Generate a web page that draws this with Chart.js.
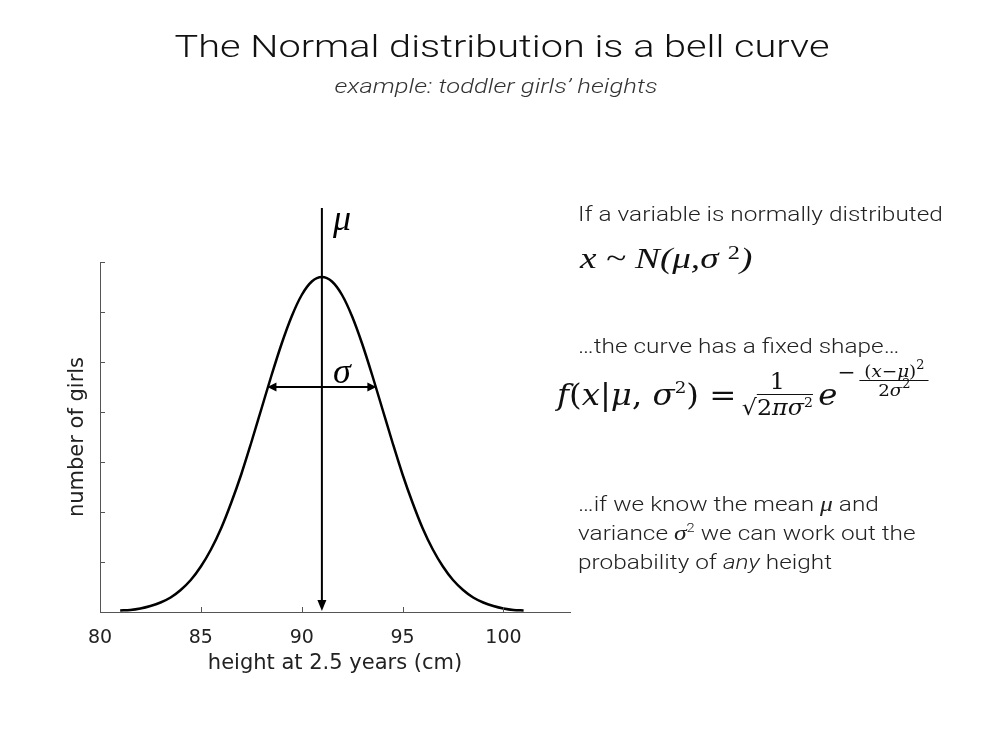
<!DOCTYPE html>
<html>
<head>
<meta charset="utf-8">
<script src="https://cdn.jsdelivr.net/npm/chart.js@4.4.1/dist/chart.umd.min.js"></script>
<style>
  body { margin: 0; background: #fff; width: 1004px; height: 746px; overflow: hidden; position: relative; font-family: "Liberation Sans", Arial, sans-serif; color: #222; }
  #chart { position: absolute; left: 0; top: 0; }
  .txt { position: absolute; white-space: nowrap; }
  #title { left: 0; width: 1004px; top: 27px; text-align: center; font-family: Roboto, "Liberation Sans", sans-serif; font-weight: 300; font-size: 31px; line-height: 40px; color: #111; transform: scaleX(1.28); transform-origin: 502px 0; }
  #subtitle { left: -6px; width: 1004px; top: 73px; text-align: center; font-family: Roboto, "Liberation Sans", sans-serif; font-weight: 300; font-style: italic; font-size: 21px; line-height: 26px; color: #333; transform: scaleX(1.22); transform-origin: 502px 0; }
  .body { font-family: Roboto, "Liberation Sans", sans-serif; font-weight: 300; font-size: 20px; line-height: 29px; color: #222; left: 578px; transform: scaleX(1.22); transform-origin: 0 0; }
  .body .gr { font-family: "Liberation Serif", serif; font-style: italic; font-size: 21px; line-height: 0; }
  .body .s2 { font-size: 12px; line-height: 0; position: relative; top: -8px; }
  #normal { left: 580px; top: 240px; font-family: "Liberation Serif", serif; font-style: italic; font-size: 29px; line-height: 36px; color: #111; transform: scaleX(1.28); transform-origin: 0 0; }
  #normal .sup { font-size: 19px; position: relative; top: -9px; font-style: normal; line-height: 0; }
  #formula { left: 557px; top: 369px; height: 51px; font-family: "DejaVu Serif", serif; font-size: 30px; color: #111; display: flex; align-items: center; transform: scaleX(1.08); transform-origin: 0 0; }
  .frac { display: inline-flex; flex-direction: column; align-items: center; margin: 0 3px; }
  .frac .num { font-size: 22px; line-height: 25px; padding: 0 4px; border-bottom: 1.5px solid #111; }
  .frac .den { font-size: 22px; line-height: 25px; padding: 0 2px; }
  .sm { font-size: 17px; position: relative; top: -12px; line-height: 0; }
  .sm2 { font-size: 13px; position: relative; top: -8px; line-height: 0; }
  .exp { display: inline-flex; align-items: flex-start; align-self: flex-start; margin-top: -7px; }
  .exp .minus { font-size: 20px; line-height: 20px; margin-right: 1px; }
  .exp .frac .num, .exp .frac .den { font-size: 17px; line-height: 18px; }
  .exp .frac .num { border-bottom-width: 1.2px; }
  .rad { border-top: 1.5px solid #111; }
  i { font-style: italic; }
</style>
</head>
<body>
<canvas id="chart" width="1004" height="746"></canvas>
<div class="txt" id="title">The Normal distribution is a bell curve</div>
<div class="txt" id="subtitle">example: toddler girls’ heights</div>
<div class="txt body" style="top:200px">If a variable is normally distributed</div>
<div class="txt" id="normal">x ~ N(μ,σ <span class="sup">2</span>)</div>
<div class="txt body" style="top:332px">…the curve has a fixed shape…</div>
<div class="txt" id="formula">
  <span><i>f</i>(<i>x</i>|<i>μ</i>, <i>σ</i><span class="sm">2</span>) =</span>
  <span class="frac"><span class="num">1</span><span class="den">√<span class="rad">2<i>πσ</i><span class="sm2">2</span></span></span></span>
  <span><i>e</i></span>
  <span class="exp"><span class="minus">−</span><span class="frac"><span class="num">(<i>x</i>−<i>μ</i>)<span class="sm2" style="font-size:12px">2</span></span><span class="den">2<i>σ</i><span class="sm2" style="font-size:12px">2</span></span></span></span>
</div>
<div class="txt body" style="top:490px">…if we know the mean <span class="gr">μ</span> and</div>
<div class="txt body" style="top:519px">variance <span class="gr">σ</span><span class="s2">2</span> we can work out the</div>
<div class="txt body" style="top:548px">probability of <i>any</i> height</div>

<script>
// heights (cm) and number of girls
const heights = [81, 81.5, 82, 82.5, 83, 83.5, 84, 84.5, 85, 85.5, 86, 86.5, 87, 87.5, 88, 88.5, 89, 89.5, 90, 90.5,
                 91, 91.5, 92, 92.5, 93, 93.5, 94, 94.5, 95, 95.5, 96, 96.5, 97, 97.5, 98, 98.5, 99, 99.5, 100, 100.5, 101];
const girls = [0.03, 0.04, 0.07, 0.12, 0.19, 0.29, 0.44, 0.64, 0.91, 1.25, 1.67, 2.18, 2.75, 3.39, 4.06, 4.73, 5.36, 5.91, 6.34, 6.61,
               6.70, 6.61, 6.34, 5.91, 5.36, 4.73, 4.06, 3.39, 2.75, 2.18, 1.67, 1.25, 0.91, 0.64, 0.44, 0.29, 0.19, 0.12, 0.07, 0.04, 0.03];

const meanHeight = 91;      // mu arrow
const muTop = 8.08;         // top of the mu line (above the axes)
const sigmaLevel = 4.5;     // height of the sigma arrow
const sigmaFrom = 88.3;
const sigmaTo = 93.7;

const xTickValues = [80, 85, 90, 95, 100];
const yTickValues = [0, 1, 2, 3, 4, 5, 6, 7];
const xMin = 80, xMax = 103.3;
const yMin = 0, yMax = 7;

const curvePoints = heights.map((h, i) => ({ x: h, y: girls[i] }));

const axisFont = '"DejaVu Sans", "Liberation Sans", Arial';

function arrowHead(ctx, x, y, angle, len, half) {
    ctx.save();
    ctx.translate(x, y);
    ctx.rotate(angle);
    ctx.beginPath();
    ctx.moveTo(0, 0);
    ctx.lineTo(-len, -half);
    ctx.lineTo(-len, half);
    ctx.closePath();
    ctx.fill();
    ctx.restore();
}

// inward tick marks, arrows and the mu / sigma labels
const annotations = {
    id: 'annotations',
    afterDraw(chart) {
        const ctx = chart.ctx;
        const xs = chart.scales.x, ys = chart.scales.y;
        const x0 = xs.getPixelForValue(xMin), y0 = ys.getPixelForValue(yMin);

        ctx.save();
        ctx.strokeStyle = '#555';
        ctx.lineWidth = 1;
        yTickValues.forEach(v => {
            const py = Math.round(ys.getPixelForValue(v)) + 0.5;
            ctx.beginPath(); ctx.moveTo(x0, py); ctx.lineTo(x0 + 5, py); ctx.stroke();
        });
        xTickValues.forEach(v => {
            const px = Math.round(xs.getPixelForValue(v)) + 0.5;
            ctx.beginPath(); ctx.moveTo(px, y0); ctx.lineTo(px, y0 - 5); ctx.stroke();
        });

        ctx.fillStyle = '#000';
        ctx.strokeStyle = '#000';
        // mu arrow head (pointing down to the axis)
        const mx = xs.getPixelForValue(meanHeight);
        arrowHead(ctx, mx, y0 - 1, Math.PI / 2, 11, 4.5);

        // sigma double arrow
        const sy = ys.getPixelForValue(sigmaLevel);
        const sx1 = xs.getPixelForValue(sigmaFrom), sx2 = xs.getPixelForValue(sigmaTo);
        ctx.lineWidth = 2;
        ctx.beginPath(); ctx.moveTo(sx1 + 6, sy); ctx.lineTo(sx2 - 6, sy); ctx.stroke();
        arrowHead(ctx, sx1, sy, Math.PI, 9, 4.5);
        arrowHead(ctx, sx2, sy, 0, 9, 4.5);

        // labels
        ctx.font = 'italic 36px "Liberation Serif", serif';
        ctx.textAlign = 'left';
        ctx.textBaseline = 'alphabetic';
        ctx.fillText('μ', mx + 11, ys.getPixelForValue(muTop) + 22);
        ctx.fillText('σ', mx + 11, sy - 4);
        ctx.restore();
    }
};

new Chart(document.getElementById('chart'), {
    type: 'scatter',
    data: {
        datasets: [
            {
                label: 'girls',
                data: curvePoints,
                showLine: true,
                borderColor: '#000',
                borderWidth: 2.5,
                pointRadius: 0,
                cubicInterpolationMode: 'monotone'
            },
            {
                label: 'mean',
                data: [{ x: meanHeight, y: muTop }, { x: meanHeight, y: 0.2 }],
                showLine: true,
                borderColor: '#000',
                borderWidth: 2,
                pointRadius: 0,
                clip: false
            }
        ]
    },
    options: {
        responsive: false,
        animation: false,
        layout: { padding: { left: 61, top: 262, right: 434, bottom: 66 } },
        plugins: { legend: { display: false }, tooltip: { enabled: false } },
        scales: {
            x: {
                type: 'linear',
                min: xMin,
                max: xMax,
                afterBuildTicks: s => { s.ticks = xTickValues.map(v => ({ value: v })); },
                afterFit: s => { s.height = 68; },
                grid: { display: false },
                border: { display: true, color: '#555', width: 1 },
                ticks: { color: '#222', font: { size: 19, family: axisFont }, padding: 7, maxRotation: 0 },
                title: { display: true, text: 'height at 2.5 years (cm)', color: '#222', font: { size: 21, family: axisFont } }
            },
            y: {
                type: 'linear',
                min: yMin,
                max: yMax,
                afterBuildTicks: s => { s.ticks = yTickValues.map(v => ({ value: v })); },
                afterFit: s => { s.width = 39; },
                grid: { display: false },
                border: { display: true, color: '#555', width: 1 },
                ticks: { display: false },
                title: { display: true, text: 'number of girls', color: '#222', font: { size: 21, family: axisFont } }
            }
        }
    },
    plugins: [annotations]
});
</script>
</body>
</html>
